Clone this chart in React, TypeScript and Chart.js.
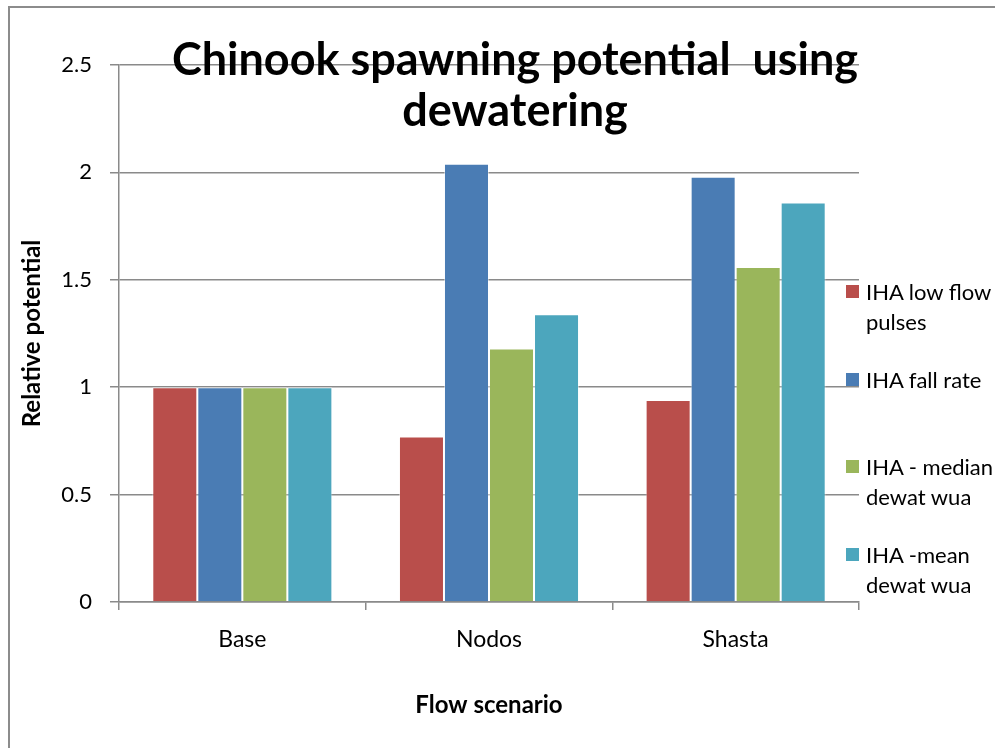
import React, { useEffect, useRef } from "react";
import { Chart, registerables } from "chart.js";

Chart.register(...registerables);

const categories = ["Base", "Nodos", "Shasta"];
const seriesNames = [
  "IHA low flow pulses",
  "IHA fall rate",
  "IHA - median dewat wua",
  "IHA -mean dewat wua",
];
const lowFlowPulses = [1.0, 0.77, 0.94];
const fallRate = [1.0, 2.04, 1.98];
const medianDewatWua = [1.0, 1.18, 1.56];
const meanDewatWua = [1.0, 1.34, 1.86];
const yTickValues = [0, 0.5, 1, 1.5, 2, 2.5];
const yTickLabels = ["0", "0.5", "1", "1.5", "2", "2.5"];
const titleLines = ["Chinook spawning potential  using", "dewatering"];
const xTitle = "Flow scenario";
const yTitle = "Relative potential";

const seriesValues = [lowFlowPulses, fallRate, medianDewatWua, meanDewatWua];
const colors = ["#B94E4B", "#4A7CB4", "#9AB65B", "#4CA6BD"];

const FONT = "Lato, 'Open Sans', sans-serif";

export default function App() {
  const ref = useRef<HTMLCanvasElement | null>(null);

  useEffect(() => {
    if (!ref.current) return;
    const titlePlugin = {
      id: "overlayTitle",
      afterDraw(chart: any) {
        const ctx = chart.ctx;
        ctx.save();
        ctx.fillStyle = "#000";
        ctx.font = `bold 45px ${FONT}`;
        ctx.textAlign = "center";
        ctx.textBaseline = "alphabetic";
        ctx.fillText(titleLines[0], 515, 75, 686);
        ctx.fillText(titleLines[1], 515, 126, 226);
        ctx.restore();
      },
    };
    const chart = new Chart(ref.current, {
      type: "bar",
      data: {
        labels: categories,
        datasets: seriesNames.map((name, i) => ({
          label: name,
          data: seriesValues[i],
          backgroundColor: colors[i],
          borderColor: "rgba(255,255,255,0.45)",
          borderWidth: 1,
          categoryPercentage: 0.73,
          barPercentage: 1.0,
        })),
      },
      options: {
        animation: false,
        responsive: false,
        maintainAspectRatio: false,
        layout: { padding: { left: 0, top: 65, right: 136, bottom: 0 } },
        plugins: {
          legend: { display: false },
          title: { display: false },
          tooltip: { enabled: false },
        },
        scales: {
          x: {
            grid: {
              display: true,
              drawOnChartArea: false,
              drawTicks: true,
              tickLength: 8,
              color: "#8a8a8a",
              lineWidth: 1.5,
            },
            border: { display: true, color: "#8a8a8a", width: 1.5 },
            ticks: {
              color: "#000",
              font: { family: FONT, size: 23 },
              padding: 16,
            },
            title: {
              display: true,
              text: xTitle,
              color: "#000",
              font: { family: FONT, size: 24, weight: "bold" },
              padding: { top: 0, bottom: 28 },
            },
            afterFit(scale: any) {
              scale.height = 146;
            },
          },
          y: {
            min: 0,
            max: 2.5,
            afterBuildTicks(scale: any) {
              scale.ticks = yTickValues.map((v) => ({ value: v }));
            },
            grid: {
              color: "#8a8a8a",
              lineWidth: 1.5,
              tickLength: 9,
            },
            border: { display: true, color: "#8a8a8a", width: 1.5 },
            ticks: {
              color: "#000",
              font: { family: FONT, size: 22 },
              padding: 18,
              callback: (v: any) => {
                const idx = yTickValues.indexOf(Number(v));
                return idx >= 0 ? yTickLabels[idx] : "";
              },
            },
            title: {
              display: true,
              text: yTitle,
              color: "#000",
              font: { family: FONT, size: 24, weight: "bold" },
              padding: { top: 18, bottom: 0 },
            },
            afterFit(scale: any) {
              scale.width = 119;
            },
          },
        },
      },
      plugins: [titlePlugin],
    });
    return () => chart.destroy();
  }, []);

  return (
    <div
      style={{
        position: "fixed",
        left: 0,
        top: 0,
        width: 995,
        height: 748,
        background: "#fff",
        overflow: "hidden",
      }}
    >
      <div
        style={{
          position: "absolute",
          left: 8,
          top: 6,
          width: 1000,
          height: 1000,
          borderLeft: "2px solid #8c8c8c",
          borderTop: "2px solid #8c8c8c",
        }}
      />
      <canvas
        ref={ref}
        width={995}
        height={748}
        style={{ position: "absolute", left: 0, top: 0, width: 995, height: 748 }}
      />
      {seriesNames.map((name, i) => {
        const top = 277 + i * 87.7;
        return (
          <div key={name}>
            <div
              style={{
                position: "absolute",
                left: 846,
                top: top + 8,
                width: 13,
                height: 13,
                background: colors[i],
              }}
            />
            <div
              style={{
                position: "absolute",
                left: 866,
                top: top,
                width: 135,
                fontFamily: FONT,
                fontSize: 22,
                lineHeight: "30px",
                color: "#000",
              }}
            >
              {name}
            </div>
          </div>
        );
      })}
    </div>
  );
}
